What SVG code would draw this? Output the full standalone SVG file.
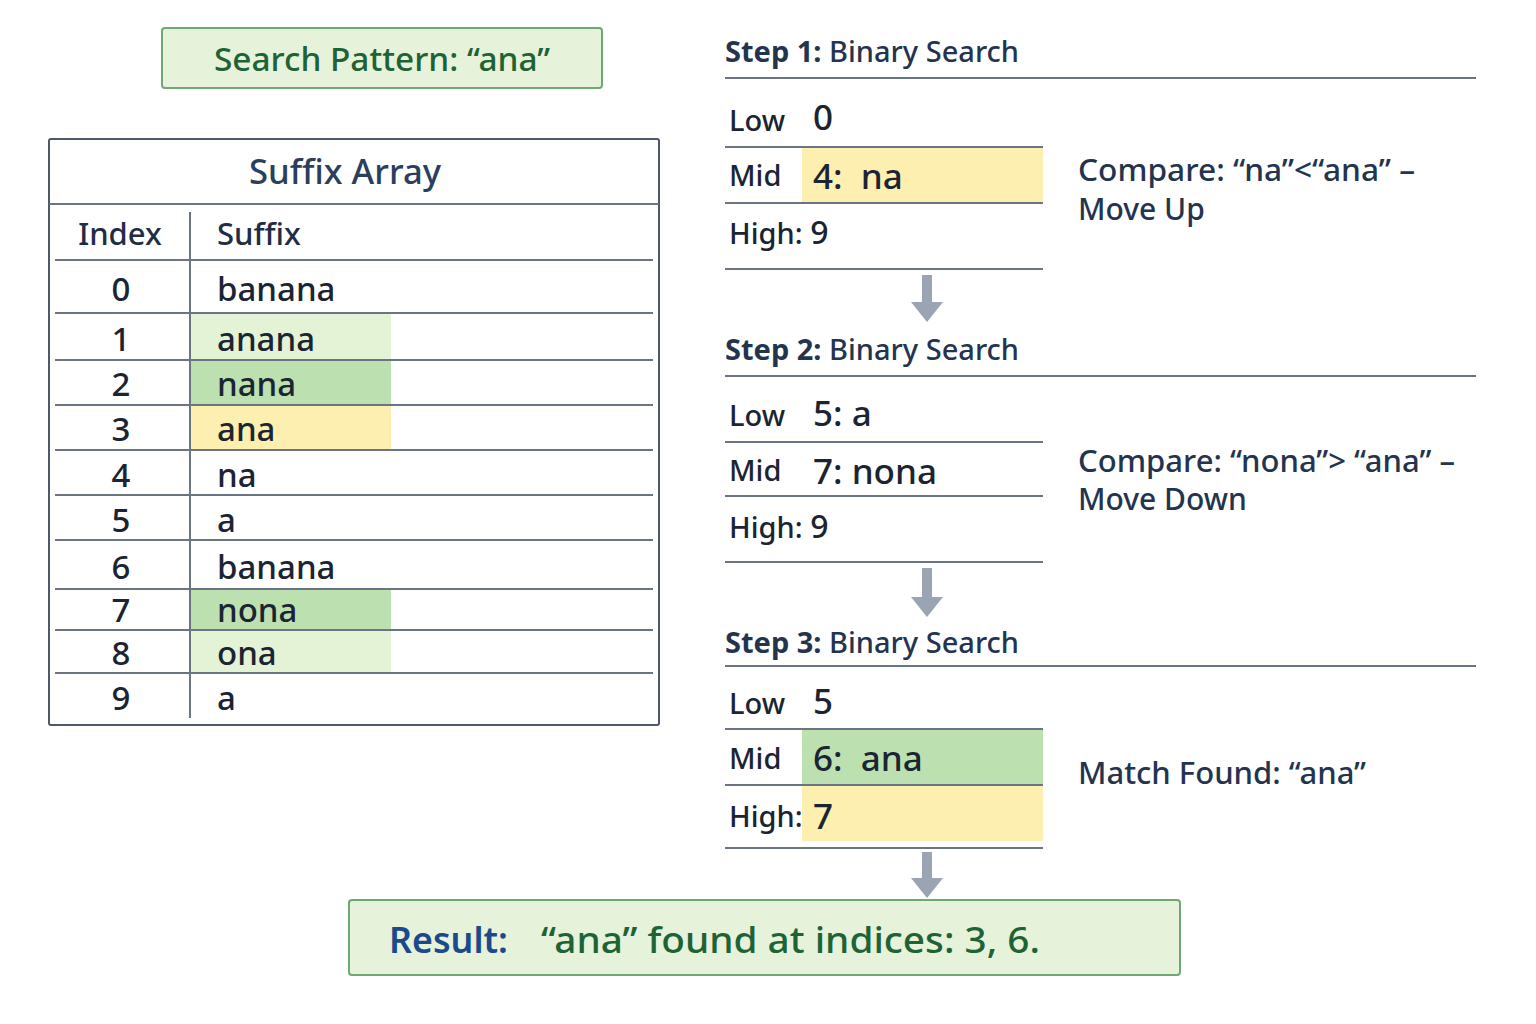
<svg xmlns="http://www.w3.org/2000/svg" width="1536" height="1024" viewBox="0 0 1536 1024">
<style>
text{font-family:"Noto Sans","Open Sans","DejaVu Sans",sans-serif;font-weight:500;}
.pbox{fill:#e6f2da;stroke:#6fa872;stroke-width:2;}
.grid{stroke:#6b7482;stroke-width:2;fill:none;}
.cell{font-size:33px;fill:#1b2432;}
.hdr{font-size:31px;fill:#1f2d45;}
.lbl{font-size:29px;fill:#1b2432;}
.val{font-size:35px;fill:#1b2432;}
.step{font-size:29px;fill:#24344f;}
.cmp{font-size:30px;fill:#24344f;}
.lg{fill:#e4f2d6;}
.dg{fill:#bde0b0;}
.yl{fill:#fdefb0;}
.arrow{fill:#9aa4b3;}
.b{font-weight:700;}
</style>
<rect width="1536" height="1024" fill="#ffffff"/>

<g id="pattern">
<rect class="pbox" x="162" y="28" width="440" height="60" rx="3"/>
<text x="382" y="71" text-anchor="middle" font-size="32" fill="#1d6336" textLength="336" lengthAdjust="spacingAndGlyphs">Search Pattern: “ana”</text>
</g>

<g id="suffix-array">
<rect x="49" y="139" width="610" height="586" fill="#ffffff" stroke="#4f5866" stroke-width="2" rx="2"/>
<text x="345" y="184" text-anchor="middle" font-size="34" fill="#2a3e5e" textLength="192" lengthAdjust="spacingAndGlyphs">Suffix Array</text>
<line class="grid" x1="49" y1="204" x2="659" y2="204"/>
<rect class="lg" x="191" y="313" width="200" height="47"/>
<rect class="dg" x="191" y="360" width="200" height="45"/>
<rect class="yl" x="191" y="405" width="200" height="45"/>
<rect class="dg" x="191" y="589" width="200" height="41"/>
<rect class="lg" x="191" y="630" width="200" height="43"/>
<line class="grid" x1="190" y1="212" x2="190" y2="718"/>
<g class="grid">
<line x1="55" y1="260" x2="653" y2="260"/>
<line x1="55" y1="313" x2="653" y2="313"/>
<line x1="55" y1="360" x2="653" y2="360"/>
<line x1="55" y1="405" x2="653" y2="405"/>
<line x1="55" y1="450" x2="653" y2="450"/>
<line x1="55" y1="495" x2="653" y2="495"/>
<line x1="55" y1="540" x2="653" y2="540"/>
<line x1="55" y1="589" x2="653" y2="589"/>
<line x1="55" y1="630" x2="653" y2="630"/>
<line x1="55" y1="673" x2="653" y2="673"/>
</g>
<text class="hdr" x="120" y="245" text-anchor="middle">Index</text>
<text class="hdr" x="217" y="245">Suffix</text>
<g class="cell" text-anchor="middle">
<text class="cell" x="121" y="301">0</text>
<text class="cell" x="121" y="351">1</text>
<text class="cell" x="121" y="396">2</text>
<text class="cell" x="121" y="441">3</text>
<text class="cell" x="121" y="487">4</text>
<text class="cell" x="121" y="532">5</text>
<text class="cell" x="121" y="579">6</text>
<text class="cell" x="121" y="622">7</text>
<text class="cell" x="121" y="665">8</text>
<text class="cell" x="121" y="710">9</text>
</g>
<text class="cell" x="217" y="301">banana</text>
<text class="cell" x="217" y="351" fill="#173a24">anana</text>
<text class="cell" x="217" y="396" fill="#173a24">nana</text>
<text class="cell" x="217" y="441">ana</text>
<text class="cell" x="217" y="487">na</text>
<text class="cell" x="217" y="532">a</text>
<text class="cell" x="217" y="579">banana</text>
<text class="cell" x="217" y="622" fill="#173a24">nona</text>
<text class="cell" x="217" y="665" fill="#173a24">ona</text>
<text class="cell" x="217" y="710">a</text>
</g>

<g id="step1">
<text class="step" x="725" y="62"><tspan class="b">Step 1:</tspan> Binary Search</text>
<line class="grid" x1="725" y1="78" x2="1476" y2="78"/>
<rect class="yl" x="802" y="147" width="241" height="56"/>
<text class="lbl" x="729" y="131">Low</text>
<text class="val" x="813" y="130">0</text>
<line class="grid" x1="725" y1="147" x2="1043" y2="147"/>
<text class="lbl" x="729" y="186">Mid</text>
<text class="val" x="813" y="189" xml:space="preserve">4:  na</text>
<line class="grid" x1="725" y1="203" x2="1043" y2="203"/>
<text class="lbl" x="729" y="244">High: <tspan font-size="32">9</tspan></text>
<line class="grid" x1="725" y1="269" x2="1043" y2="269"/>
<text class="cmp" x="1078" y="181" textLength="337" lengthAdjust="spacingAndGlyphs">Compare: “na”&lt;“ana” –</text>
<text class="cmp" x="1078" y="220">Move Up</text>
</g>

<g id="step2">
<text class="step" x="725" y="360"><tspan class="b">Step 2:</tspan> Binary Search</text>
<line class="grid" x1="725" y1="376" x2="1476" y2="376"/>
<text class="lbl" x="729" y="426">Low</text>
<text class="val" x="813" y="426">5: a</text>
<line class="grid" x1="725" y1="442" x2="1043" y2="442"/>
<text class="lbl" x="729" y="481">Mid</text>
<text class="val" x="813" y="484">7: nona</text>
<line class="grid" x1="725" y1="496" x2="1043" y2="496"/>
<text class="lbl" x="729" y="538">High: <tspan font-size="32">9</tspan></text>
<line class="grid" x1="725" y1="562" x2="1043" y2="562"/>
<text class="cmp" x="1078" y="472" textLength="377" lengthAdjust="spacingAndGlyphs">Compare: “nona”&gt; “ana” –</text>
<text class="cmp" x="1078" y="510">Move Down</text>
</g>

<g id="step3">
<text class="step" x="725" y="653"><tspan class="b">Step 3:</tspan> Binary Search</text>
<line class="grid" x1="725" y1="666" x2="1476" y2="666"/>
<text class="lbl" x="729" y="714">Low</text>
<text class="val" x="813" y="714">5</text>
<rect class="dg" x="802" y="729" width="241" height="56"/>
<rect class="yl" x="802" y="785" width="241" height="56"/>
<line class="grid" x1="725" y1="729" x2="1043" y2="729"/>
<text class="lbl" x="729" y="769">Mid</text>
<text class="val" x="813" y="771" xml:space="preserve">6:  ana</text>
<line class="grid" x1="725" y1="785" x2="1043" y2="785"/>
<text class="lbl" x="729" y="827">High:</text>
<text class="val" x="813" y="829">7</text>
<line class="grid" x1="725" y1="848" x2="1043" y2="848"/>
<text class="cmp" x="1078" y="784" textLength="288" lengthAdjust="spacingAndGlyphs">Match Found: “ana”</text>
</g>

<g id="result">
<rect class="pbox" x="349" y="900" width="831" height="75" rx="3"/>
<text class="b" x="389" y="953" font-size="36" fill="#1a4a8c" style="font-weight:600" textLength="119" lengthAdjust="spacingAndGlyphs">Result:</text>
<text x="541" y="953" font-size="37" fill="#1d6336" textLength="499" lengthAdjust="spacingAndGlyphs">“ana” found at indices: 3, 6.</text>
</g>

<g id="connectors">
<path class="arrow" d="M922 275 H932 V302 H943 L927 322 L911 302 H922 Z"/>
<path class="arrow" d="M922 568 H932 V597 H943 L927 617 L911 597 H922 Z"/>
<path class="arrow" d="M922 852 H932 V878 H943 L927 898 L911 878 H922 Z"/>
</g>
</svg>
